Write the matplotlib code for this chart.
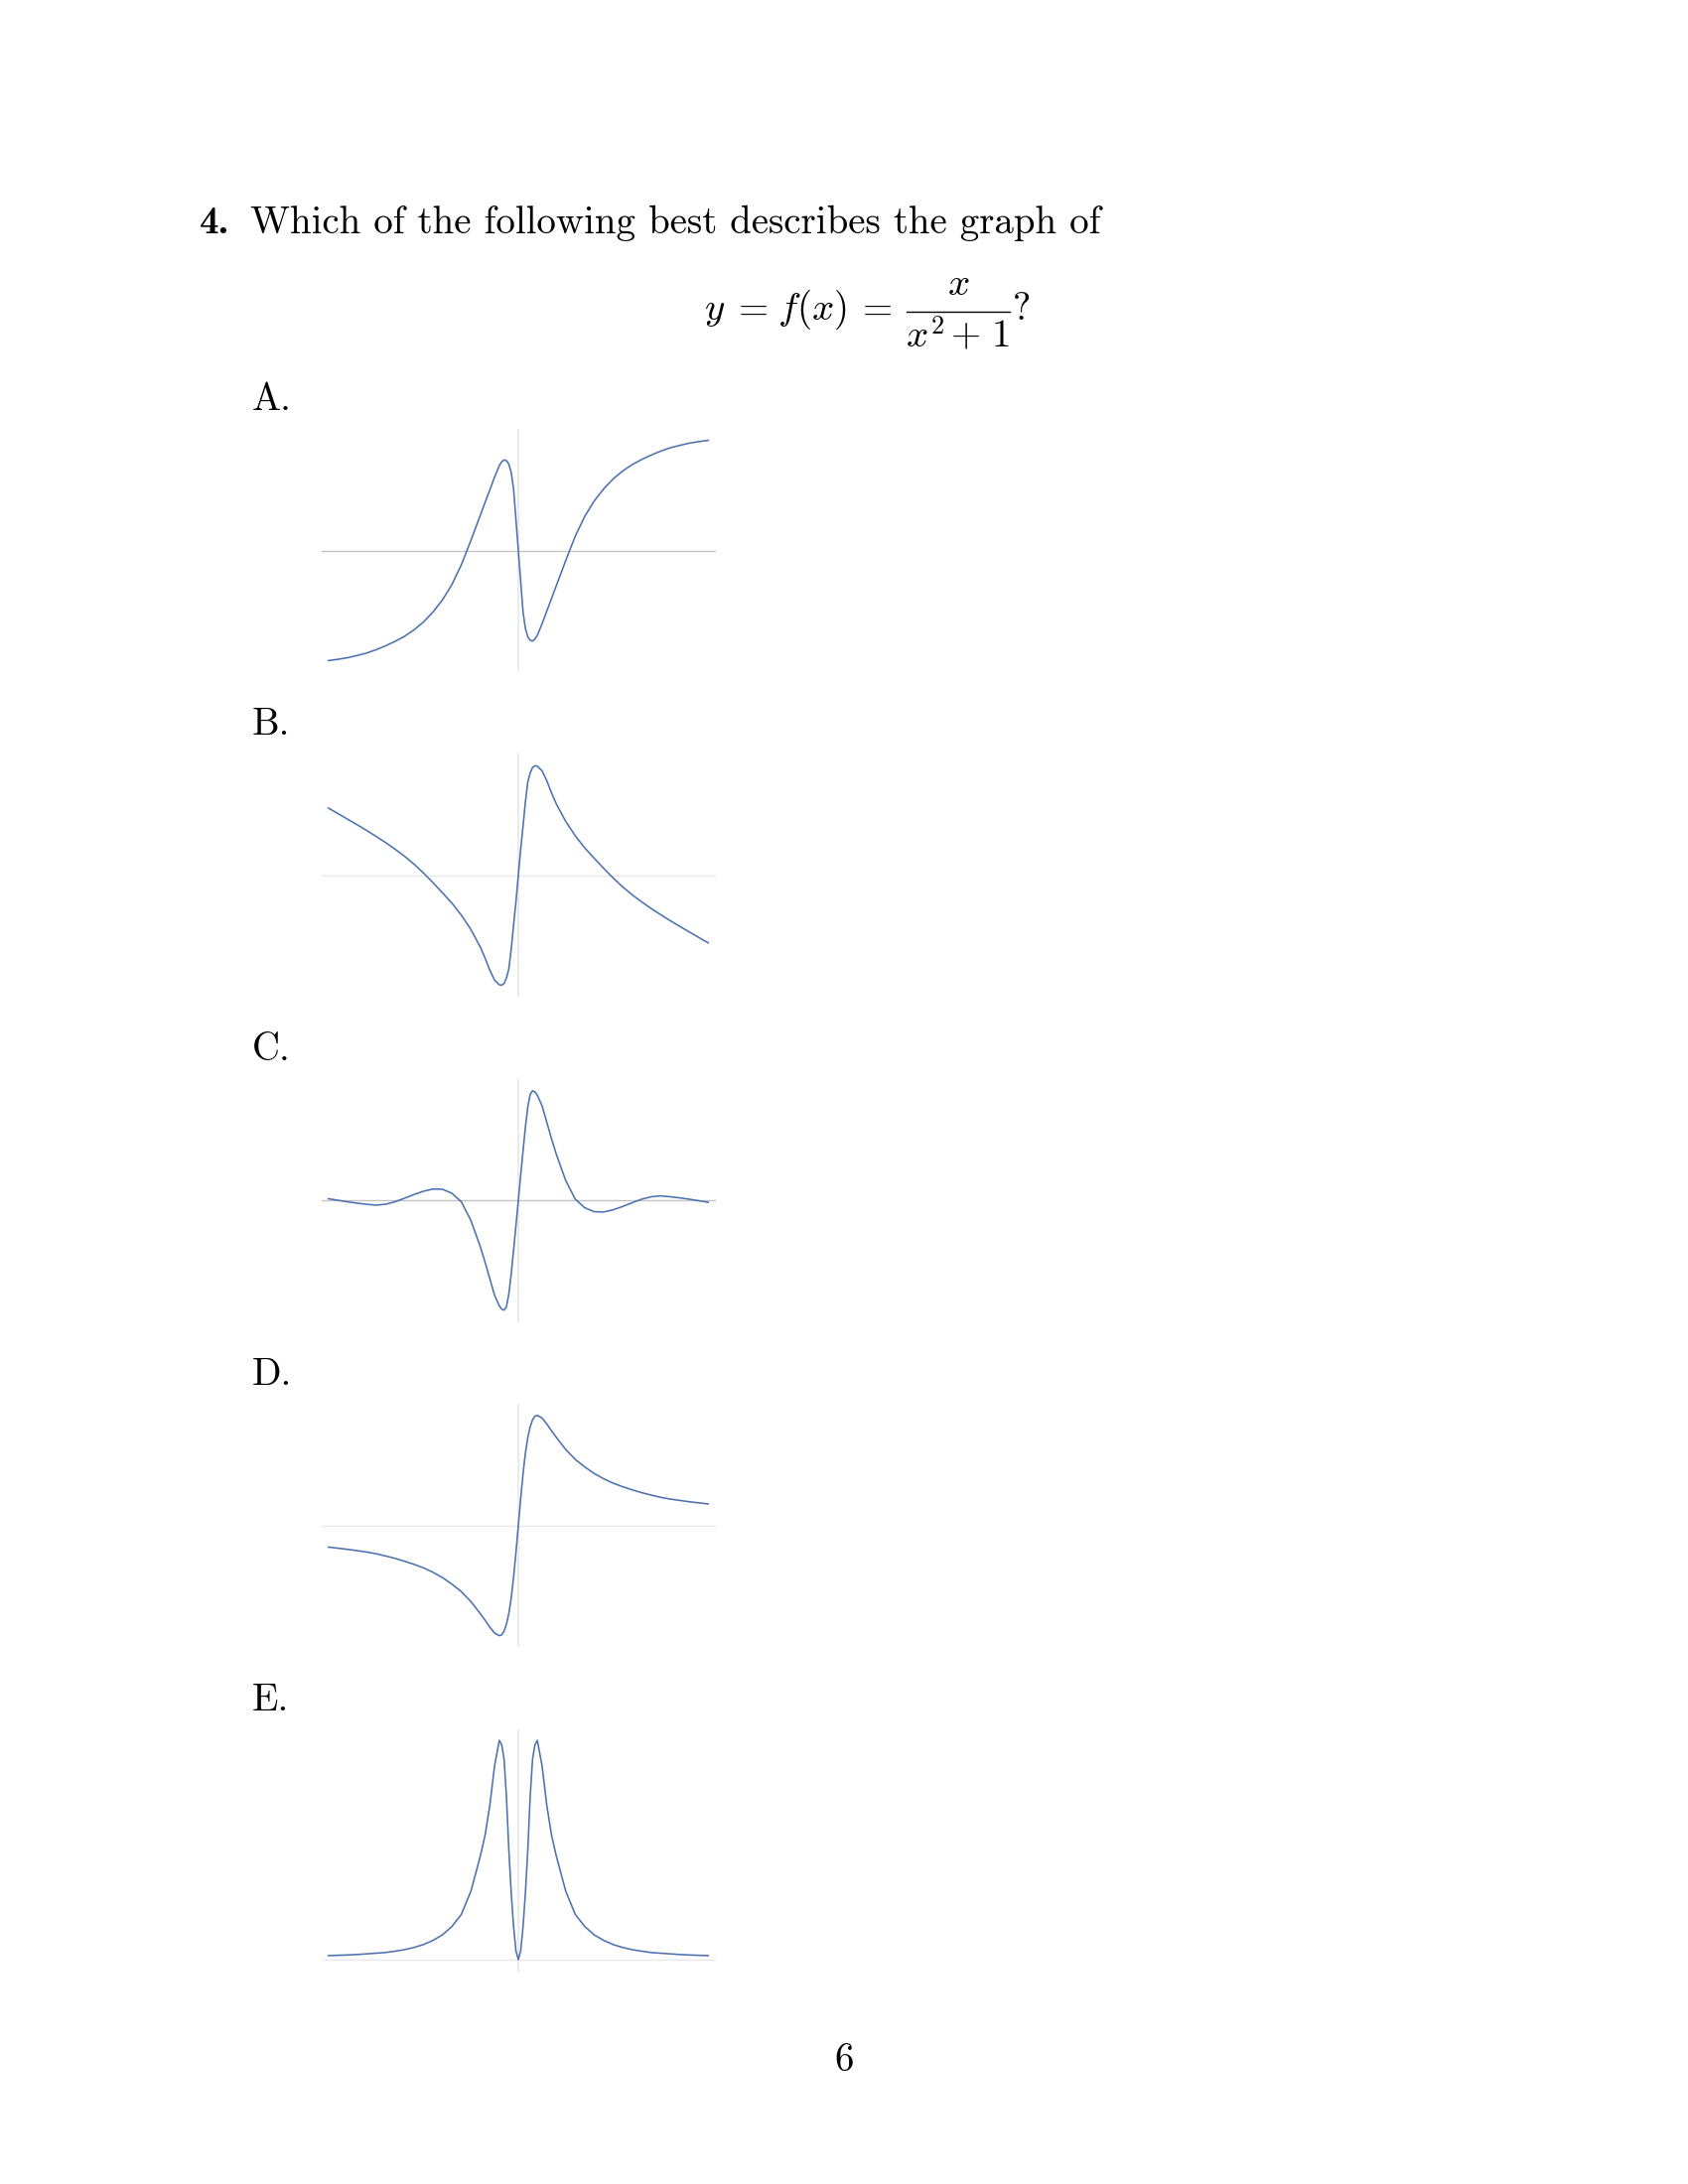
import matplotlib
matplotlib.use("Agg")
import matplotlib.pyplot as plt
from matplotlib.lines import Line2D

plt.rcParams['mathtext.fontset'] = 'cm'

# sample positions along x
x_vals = [-10, -9.5, -9, -8.5, -8, -7.5, -7, -6.5, -6, -5.5, -5, -4.5, -4, -3.5, -3, -2.5,
          -2, -1.75, -1.5, -1.25, -1, -0.875, -0.75, -0.625, -0.5, -0.375, -0.25, -0.125, 0,
          0.125, 0.25, 0.375, 0.5, 0.625, 0.75, 0.875, 1, 1.25, 1.5, 1.75, 2,
          2.5, 3, 3.5, 4, 4.5, 5, 5.5, 6, 6.5, 7, 7.5, 8, 8.5, 9, 9.5, 10]

curve_a = [-0.500, -0.494, -0.487, -0.477, -0.466, -0.451, -0.433, -0.413, -0.390, -0.361,
           -0.325, -0.280, -0.225, -0.155, -0.065, 0.045, 0.160, 0.218, 0.275, 0.333, 0.385,
           0.402, 0.411, 0.408, 0.392, 0.355, 0.280, 0.140, 0.0,
           -0.140, -0.280, -0.355, -0.392, -0.408, -0.411, -0.402, -0.385, -0.333, -0.275, -0.218,
           -0.160, -0.045, 0.065, 0.155, 0.225, 0.280, 0.325, 0.361, 0.390, 0.413, 0.433, 0.451,
           0.466, 0.477, 0.487, 0.494, 0.500]

curve_b = [0.306, 0.281, 0.256, 0.231, 0.205, 0.178, 0.150, 0.120, 0.088, 0.052,
           0.012, -0.032, -0.078, -0.125, -0.180, -0.245, -0.325, -0.375, -0.430, -0.475, -0.496,
           -0.498, -0.490, -0.465, -0.425, -0.335, -0.225, -0.120, 0.0,
           0.120, 0.225, 0.335, 0.425, 0.465, 0.490, 0.498, 0.496, 0.475, 0.430, 0.375,
           0.325, 0.245, 0.180, 0.125, 0.078, 0.032, -0.012, -0.052, -0.088, -0.120, -0.150, -0.178,
           -0.205, -0.231, -0.256, -0.281, -0.306]

curve_c = [0.008, 0.001, -0.006, -0.012, -0.017, -0.021, -0.017, -0.006, 0.010, 0.027,
           0.042, 0.052, 0.051, 0.033, -0.006, -0.090, -0.210, -0.280, -0.355, -0.430, -0.478,
           -0.493, -0.498, -0.482, -0.425, -0.335, -0.225, -0.115, 0.0,
           0.115, 0.225, 0.335, 0.425, 0.482, 0.498, 0.493, 0.478, 0.430, 0.355, 0.280,
           0.210, 0.090, 0.006, -0.033, -0.051, -0.052, -0.042, -0.027, -0.010, 0.006, 0.017, 0.021,
           0.017, 0.012, 0.006, -0.001, -0.008]

curve_d = [-0.098, -0.103, -0.108, -0.114, -0.120, -0.128, -0.138, -0.149, -0.162, -0.176,
           -0.192, -0.212, -0.236, -0.266, -0.300, -0.345, -0.400, -0.430, -0.461, -0.488, -0.500,
           -0.496, -0.480, -0.448, -0.400, -0.330, -0.235, -0.123, 0.0,
           0.123, 0.235, 0.330, 0.400, 0.448, 0.480, 0.496, 0.500, 0.488, 0.461, 0.430,
           0.400, 0.345, 0.300, 0.266, 0.236, 0.212, 0.192, 0.176, 0.162, 0.149, 0.138, 0.128,
           0.120, 0.114, 0.108, 0.103, 0.098]

curve_e = [0.018, 0.0195, 0.021, 0.023, 0.026, 0.029, 0.032, 0.038, 0.045, 0.055,
           0.068, 0.087, 0.112, 0.150, 0.205, 0.310, 0.470, 0.565, 0.700, 0.880, 0.995,
           0.975, 0.910, 0.740, 0.500, 0.305, 0.150, 0.040, 0.0,
           0.040, 0.150, 0.305, 0.500, 0.740, 0.910, 0.975, 0.995, 0.880, 0.700, 0.565,
           0.470, 0.310, 0.205, 0.150, 0.112, 0.087, 0.068, 0.055, 0.045, 0.038, 0.032, 0.029,
           0.026, 0.023, 0.021, 0.0195, 0.018]

option_labels = ['A.', 'B.', 'C.', 'D.', 'E.']
curves = [curve_a, curve_b, curve_c, curve_d, curve_e]
y_limits = [(-0.552, 0.552), (-0.552, 0.552), (-0.552, 0.552), (-0.552, 0.552), (-0.057, 1.047)]
hline_colors = ['#c4c4c4', '#e8e8e8', '#c4c4c4', '#e8e8e8', '#e8e8e8']

W, H = 1700, 2200
LINE_BLUE = '#4c72b0'
FS = 28


def fig_pos(x, y):
    return x / W, 1 - y / H


fig = plt.figure(figsize=(W / 100, H / 100), dpi=100)
fig.patch.set_facecolor('white')

# question header
fig.text(*fig_pos(201, 235), '4.', family='cmb10', fontsize=FS, va='baseline')
fig.text(*fig_pos(252, 235), 'Which of the following best describes the graph of',
         family='cmr10', fontsize=FS, va='baseline')

# displayed formula, laid out piece by piece
fig.text(*fig_pos(709, 322), r'$y$', fontsize=FS, va='baseline')
fig.text(*fig_pos(737, 322), r'$=$', fontsize=FS, va='baseline')
fig.text(*fig_pos(783, 322), r'$f(x)$', fontsize=FS, va='baseline')
fig.text(*fig_pos(862, 322), r'$=$', fontsize=FS, va='baseline')
fig.text(*fig_pos(965, 297), r'$x$', fontsize=FS, va='baseline', ha='center')
fig.add_artist(Line2D([913 / W, 1017 / W], [1 - 313.5 / H, 1 - 313.5 / H],
                      color='black', lw=1.0, transform=fig.transFigure))
fig.text(*fig_pos(912, 349), r'$x$', fontsize=FS, va='baseline')
fig.text(*fig_pos(937, 336), r'$2$', fontsize=19, va='baseline')
fig.text(*fig_pos(957, 349), r'$+$', fontsize=FS, va='baseline')
fig.text(*fig_pos(998, 349), r'$1$', fontsize=FS, va='baseline')
fig.text(*fig_pos(1020, 322), '?', family='cmr10', fontsize=FS, va='baseline')

ax_left, ax_w, ax_h = 323.5, 397, 245
pitch = 327.4
for i, (lab, ys) in enumerate(zip(option_labels, curves)):
    top = 432 + pitch * i
    fig.text(*fig_pos(254, 413 + pitch * i), lab, family='cmr10', fontsize=FS, va='baseline')
    ax = fig.add_axes([ax_left / W, 1 - (top + ax_h) / H, ax_w / W, ax_h / H])
    ax.axhline(0, color=hline_colors[i], lw=1.0, zorder=1)
    ax.axvline(0, color='#e6e6e6', lw=1.1, zorder=1)
    ax.plot(x_vals, ys, color=LINE_BLUE, lw=1.15, zorder=2, solid_joinstyle='round')
    ax.set_xlim(-10.38, 10.38)
    ax.set_ylim(*y_limits[i])
    ax.axis('off')

# page number
fig.text(*fig_pos(850, 2086), '6', family='cmr10', fontsize=FS, ha='center', va='baseline')

fig.savefig('out.png', dpi=100, facecolor='white')
